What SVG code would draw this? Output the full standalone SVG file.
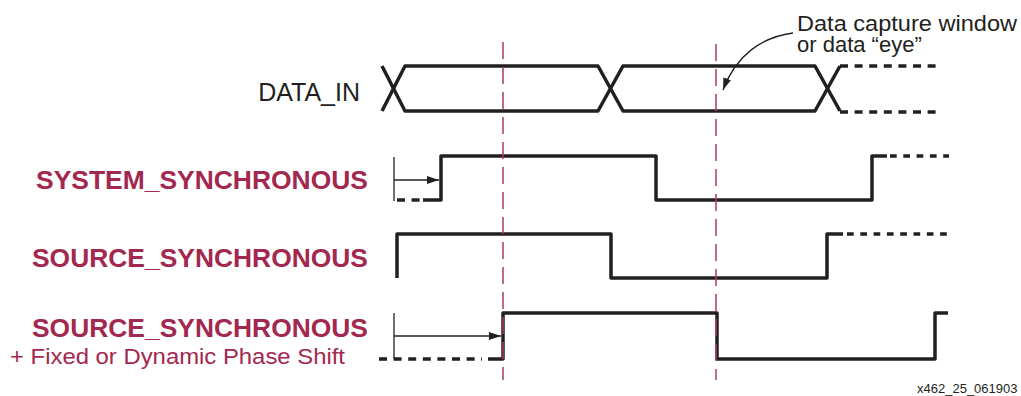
<svg xmlns="http://www.w3.org/2000/svg" width="1021" height="396" viewBox="0 0 1021 396">
<defs>
<style>
.sig{fill:none;stroke:#231f20;stroke-width:3.5;stroke-linejoin:round;stroke-linecap:butt}
.dsh{fill:none;stroke:#231f20;stroke-width:3.5;stroke-dasharray:6.7 6.6}
.dsh2{fill:none;stroke:#231f20;stroke-width:3.5;stroke-dasharray:8 6.6}
.thin{fill:none;stroke:#231f20;stroke-width:1.3}
.mark{fill:none;stroke:#b03a64;stroke-width:1.5;stroke-dasharray:17 8}
.lbl{font-family:"Liberation Sans",Arial,sans-serif;fill:#231f20}
.red{font-family:"Liberation Sans",Arial,sans-serif;font-weight:bold;font-size:26.5px;fill:#a3284f;text-anchor:end}
.sub{font-family:"Liberation Sans",Arial,sans-serif;font-size:22px;fill:#a3284f}
</style>
<marker id="ah" viewBox="0 0 12 8" refX="12" refY="4" markerWidth="12" markerHeight="8" markerUnits="userSpaceOnUse" orient="auto">
<path d="M0,0 L12,4 L0,8 Z" fill="#231f20"/>
</marker>
</defs>

<g id="labels">
<text class="lbl" x="360" y="101" font-size="25" text-anchor="end">DATA_IN</text>
<text class="red" x="368" y="189" textLength="332" lengthAdjust="spacingAndGlyphs">SYSTEM_SYNCHRONOUS</text>
<text class="red" x="368" y="267" textLength="336" lengthAdjust="spacingAndGlyphs">SOURCE_SYNCHRONOUS</text>
<text class="red" x="368" y="337" textLength="336" lengthAdjust="spacingAndGlyphs">SOURCE_SYNCHRONOUS</text>
<text class="sub" x="10" y="364" textLength="335" lengthAdjust="spacingAndGlyphs">+ Fixed or Dynamic Phase Shift</text>
<text class="lbl" x="797" y="31" font-size="22" textLength="220" lengthAdjust="spacingAndGlyphs">Data capture window</text>
<text class="lbl" x="797" y="52" font-size="22">or data “eye”</text>
<text class="lbl" x="917" y="393" font-size="13">x462_25_061903</text>
</g>

<g id="data_in">
<path class="sig" d="M382,66 L405,111 L598,111 L623,66 L815,66 L840,111"/>
<path class="sig" d="M382,111 L405,66 L598,66 L623,111 L815,111 L840,66"/>
<path class="dsh2" d="M840,66 L942,66 M840,112 L942,112"/>
</g>

<g id="system_synchronous">
<path class="sig" d="M423,200 L441,200 L441,156 L656,156 L656,200 L872,200 L872,156 L887,156"/>
<path class="dsh2" d="M397,200 L420,200"/>
<path class="dsh" d="M890,156 L949,156"/>
</g>

<g id="source_synchronous">
<path class="sig" d="M397,278 L397,234 L611,234 L611,278 L827,278 L827,234 L843,234"/>
<path class="dsh" d="M847,234 L948,234"/>
</g>

<g id="source_synchronous_shift">
<path class="sig" d="M488,359 L503,359 L503,313 L717,313 L717,359 L935,359 L935,313 L948,313"/>
<path class="dsh2" d="M379,359 L482,359"/>
</g>

<g id="connectors">
<path class="mark" d="M503,42 L503,380"/>
<path class="mark" d="M716,44 L716,380"/>
<path class="thin" d="M394,157 L394,201"/>
<path class="thin" d="M394,180 L439,180" marker-end="url(#ah)"/>
<path class="thin" d="M394,313 L394,359"/>
<path class="thin" d="M394,336 L501,336" marker-end="url(#ah)"/>
<path class="thin" d="M793,33 C762,37 736,55 723,90" marker-end="url(#ah)"/>
</g>
</svg>
